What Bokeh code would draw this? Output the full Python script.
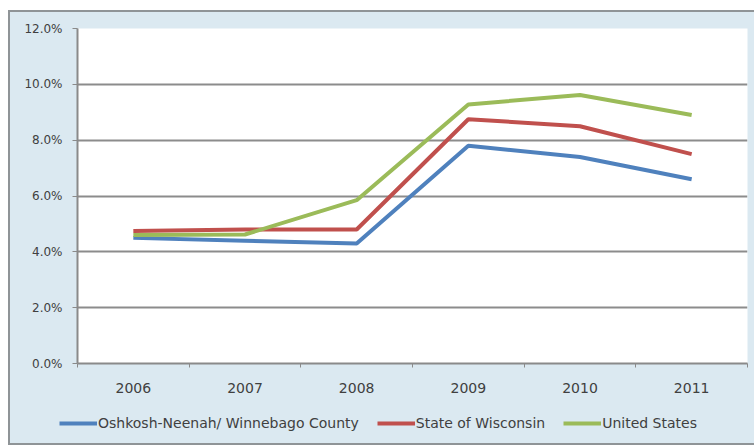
from bokeh.plotting import figure
from bokeh.layouts import column, row
from bokeh.models import FixedTicker, PrintfTickFormatter, Range1d, Legend, LegendItem, ColumnDataSource
from bokeh.embed import file_html
from bokeh.resources import INLINE

years = ["2006", "2007", "2008", "2009", "2010", "2011"]
oshkosh = [4.5, 4.4, 4.3, 7.8, 7.4, 6.6]
wisconsin = [4.75, 4.8, 4.8, 8.75, 8.5, 7.5]
united_states = [4.6, 4.62, 5.85, 9.28, 9.62, 8.9]
series_names = ["Oshkosh-Neenah/ Winnebago County", "State of Wisconsin", "United States"]
colors = ["#4f81bd", "#c0504d", "#9bbb59"]
y_ticks = [0, 2, 4, 6, 8, 10, 12]

xpos = [i + 0.5 for i in range(len(years))]
FONT = "DejaVu Sans"
BG = "#dbe9f1"

p = figure(width=744, height=393, output_backend="svg", toolbar_location=None,
           x_range=Range1d(0, len(years)), y_range=Range1d(0, 12))
p.background_fill_color = "white"
p.border_fill_color = BG
p.outline_line_color = None
p.min_border_left = 67
p.min_border_right = 7
p.min_border_top = 16
p.min_border_bottom = 42

p.yaxis.ticker = FixedTicker(ticks=y_ticks)
p.yaxis.formatter = PrintfTickFormatter(format="%.1f%%")
p.yaxis.axis_line_color = "#8a8a8a"
p.yaxis.axis_line_width = 2
p.yaxis.major_tick_line_color = "#8a8a8a"
p.yaxis.major_tick_out = 5
p.yaxis.major_tick_in = 0
p.yaxis.minor_tick_line_color = None
p.yaxis.major_label_text_font = FONT
p.yaxis.major_label_text_font_size = "12px"
p.yaxis.major_label_text_color = "#404040"
p.yaxis.major_label_standoff = 10

p.xaxis.ticker = FixedTicker(ticks=xpos, minor_ticks=list(range(len(years) + 1)))
p.xaxis.major_label_overrides = {x: y for x, y in zip(xpos, years)}
p.xaxis.axis_line_color = "#8a8a8a"
p.xaxis.axis_line_width = 2
p.xaxis.major_tick_line_color = None
p.xaxis.minor_tick_line_color = "#8a8a8a"
p.xaxis.minor_tick_out = 4
p.xaxis.minor_tick_in = 0
p.xaxis.major_label_text_font = FONT
p.xaxis.major_label_text_font_size = "14px"
p.xaxis.major_label_text_color = "#404040"
p.xaxis.major_label_standoff = 13

p.xgrid.grid_line_color = None
p.ygrid.ticker = FixedTicker(ticks=y_ticks)
p.ygrid.grid_line_color = "#8c8c8c"
p.ygrid.grid_line_width = 2

sources = [ColumnDataSource(dict(x=xpos, y=vals)) for vals in [oshkosh, wisconsin, united_states]]
for src, col in zip(sources, colors):
    p.line("x", "y", source=src, line_color=col, line_width=4)

# legend strip (separate figure below the plot, same series styles)
lf = figure(width=744, height=38, output_backend="svg", toolbar_location=None,
            x_range=Range1d(0, len(years)), y_range=Range1d(100, 101),
            x_axis_type=None, y_axis_type=None)
lf.min_border_left = 0
lf.min_border_right = 0
lf.min_border_top = 0
lf.min_border_bottom = 0
lf.background_fill_color = BG
lf.border_fill_color = BG
lf.outline_line_color = None
lf.xgrid.grid_line_color = None
lf.ygrid.grid_line_color = None
leg_renderers = [lf.line("x", "y", source=src, line_color=col, line_width=4)
                 for src, col in zip(sources, colors)]
legend = Legend(items=[LegendItem(label=n, renderers=[r]) for n, r in zip(series_names, leg_renderers)],
                orientation="horizontal", location=(49, 10))
legend.background_fill_alpha = 0
legend.border_line_color = None
legend.label_text_font = FONT
legend.label_text_font_size = "14px"
legend.label_text_color = "#404040"
legend.glyph_width = 38
legend.label_standoff = 1
legend.spacing = 18
legend.padding = 4
legend.margin = 0
lf.add_layout(legend, "center")

layout = column(p, row(lf, spacing=0), spacing=0, margin=(10, 0, 0, 8),
                styles={"border-left": "2px solid #8f9497", "border-top": "2px solid #8f9497",
                        "border-bottom": "2px solid #8f9497", "background-color": BG})

open("out.html", "w").write(file_html(layout, INLINE))
